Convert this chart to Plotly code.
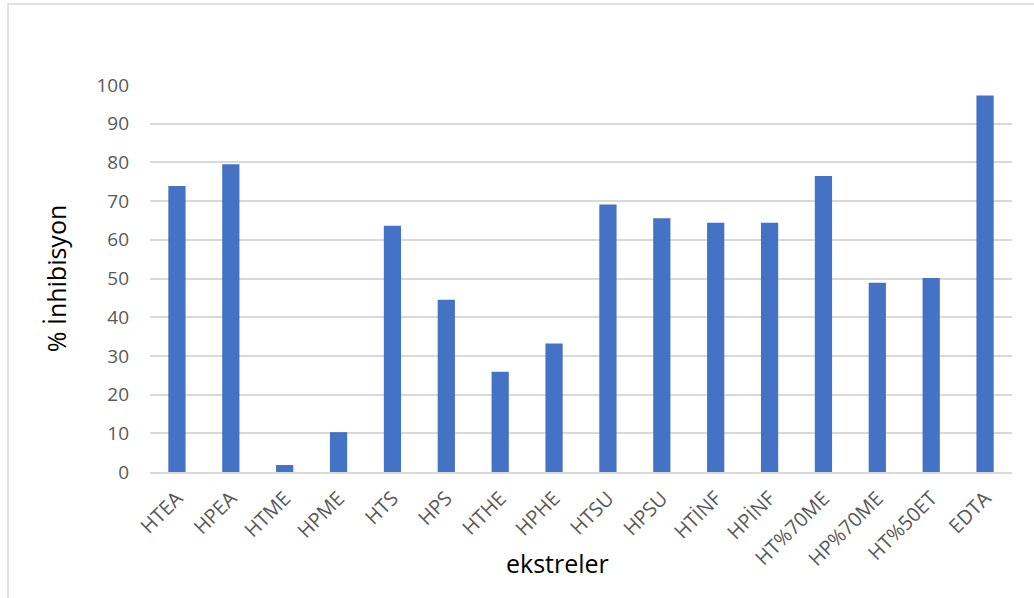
import plotly.graph_objects as go

categories = ["HTEA", "HPEA", "HTME", "HPME", "HTS", "HPS", "HTHE", "HPHE",
              "HTSU", "HPSU", "HTİNF", "HPİNF", "HT%70ME", "HP%70ME", "HT%50ET", "EDTA"]
values = [73.9, 79.5, 1.8, 10.3, 63.6, 44.5, 25.9, 33.2,
          69.1, 65.6, 64.4, 64.4, 76.5, 48.9, 50.1, 97.3]
y_ticks = [0, 10, 20, 30, 40, 50, 60, 70, 80, 90, 100]
x_title = "ekstreler"
y_title = "% İnhibisyon"

W, H = 1034, 598
L, R, T, B = 150, 22, 85, 126
pw, ph = W - L - R, H - T - B

fig = go.Figure(go.Bar(x=categories, y=values, marker=dict(color="#4472C4", line=dict(width=0))))

def px_x(p):
    return (p - L) / pw
def px_y(p):
    return (H - B - p) / ph

fig.update_layout(
    width=W, height=H,
    margin=dict(l=L, r=R, t=T, b=B),
    paper_bgcolor="white", plot_bgcolor="white",
    bargap=0.68,
    showlegend=False,
    font=dict(family="Open Sans, Liberation Sans, sans-serif", color="#595959", size=18),
    xaxis=dict(
        tickangle=-45, tickfont=dict(size=20, color="#595959"),
        showgrid=False, showline=True, linecolor="#d9d9d9", linewidth=1.5,
        ticks="", ticklabelstandoff=5,
    ),
    yaxis=dict(
        range=[0, 100], tickvals=y_ticks, tickfont=dict(size=19, color="#595959"),
        showgrid=True, gridcolor="#d9d9d9", gridwidth=1.5, zeroline=False,
        ticks="", ticklen=0, showline=False, ticklabelstandoff=20,
        title=dict(text=y_title, font=dict(size=25, color="black"), standoff=22),
    ),
    annotations=[dict(text=x_title, xref="paper", yref="paper", x=px_x(557), y=px_y(563),
                      xanchor="center", yanchor="middle", showarrow=False,
                      font=dict(size=25, color="black"))],
    shapes=[dict(type="rect", xref="paper", yref="paper",
                 x0=px_x(8), x1=px_x(1040), y0=px_y(4), y1=px_y(610),
                 line=dict(color="#d9d9d9", width=1.5), fillcolor="rgba(0,0,0,0)", layer="below")],
)

fig.write_html("out.html")
